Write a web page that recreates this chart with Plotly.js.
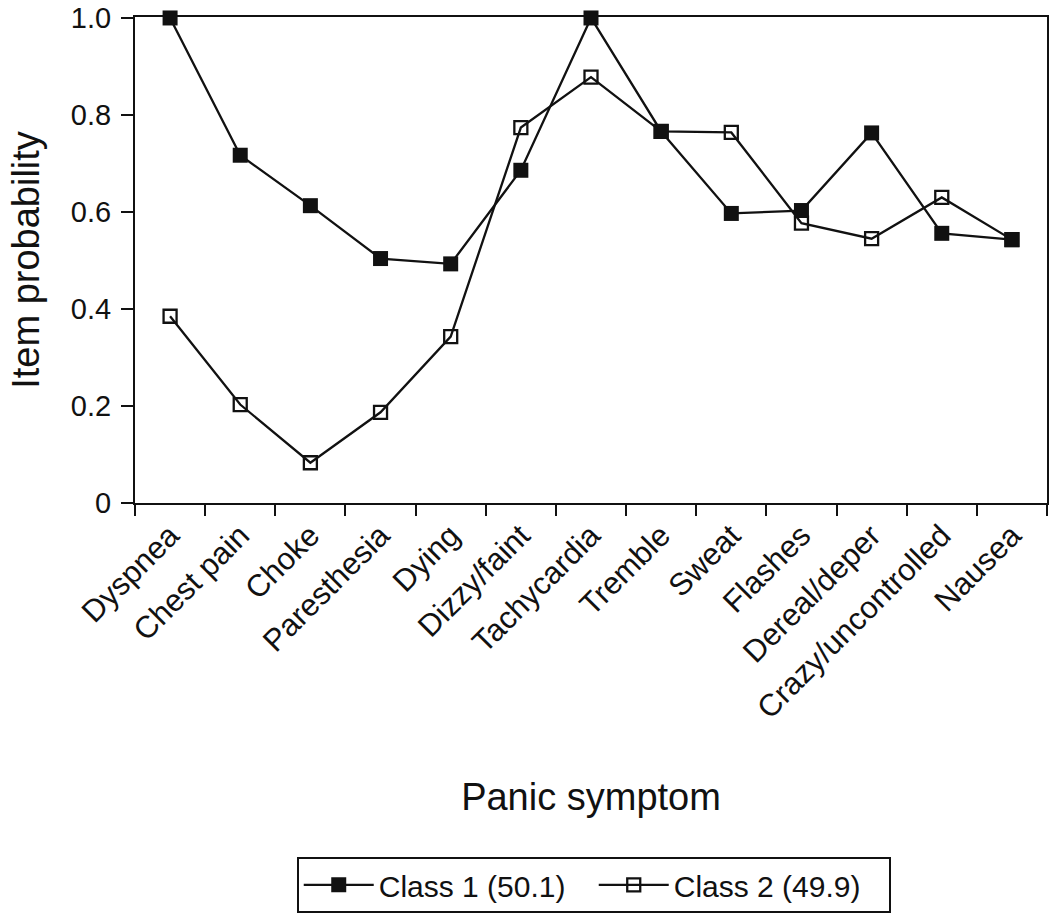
<!DOCTYPE html>
<html>
<head>
<meta charset="utf-8">
<script src="https://cdn.plot.ly/plotly-3.0.1.min.js"></script>
<style>html,body{margin:0;padding:0;background:#fff;}#chart{width:1050px;height:918px;}</style>
</head>
<body>
<div id="chart"></div>
<script>
const symptoms = ["Dyspnea","Chest pain","Choke","Paresthesia","Dying","Dizzy/faint","Tachycardia","Tremble","Sweat","Flashes","Dereal/deper","Crazy/uncontrolled","Nausea"];
const class1 = [1.0, 0.717, 0.613, 0.504, 0.493, 0.686, 1.0, 0.766, 0.597, 0.603, 0.763, 0.556, 0.543];
const class2 = [0.385, 0.203, 0.083, 0.187, 0.343, 0.774, 0.878, 0.766, 0.764, 0.577, 0.545, 0.630, 0.543];
const yTickVals = [0, 0.2, 0.4, 0.6, 0.8, 1.0];
const yTickText = ["0", "0.2", "0.4", "0.6", "0.8", "1.0"];
const seriesNames = ["Class 1 (50.1)", "Class 2 (49.9)"];

const FONT = "Liberation Sans, Arial, Helvetica, sans-serif";

const traces = [
  {
    x: symptoms, y: class2, name: seriesNames[1], type: "scatter", mode: "lines+markers",
    line: {color: "#111", width: 2.3},
    marker: {symbol: "square-open", size: 13, color: "#111", line: {width: 2.3, color: "#111"}},
    cliponaxis: false
  },
  {
    x: symptoms, y: class1, name: seriesNames[0], type: "scatter", mode: "lines+markers",
    line: {color: "#111", width: 2.3},
    marker: {symbol: "square", size: 15, color: "#111"},
    cliponaxis: false
  }
];

const layout = {
  width: 1050, height: 918,
  margin: {l: 135, r: 3, t: 17, b: 415},
  paper_bgcolor: "#fff", plot_bgcolor: "#fff",
  font: {family: FONT, color: "#111", size: 29},
  showlegend: true,
  legend: {
    orientation: "h", traceorder: "reversed",
    x: 0.503, xanchor: "center", y: -0.728, yanchor: "top",
    bordercolor: "#111", borderwidth: 2, bgcolor: "#fff",
    font: {family: FONT, size: 30, color: "#111"},
    itemwidth: 70, entrywidth: 210
  },
  xaxis: {
    type: "category", range: [-0.5, 12.5],
    showline: true, linecolor: "#111", linewidth: 2, mirror: true,
    ticks: "outside", ticklen: 11, tickwidth: 2, tickcolor: "#111",
    tickson: "boundaries", tickangle: -45,
    showgrid: false, zeroline: false, automargin: false,
    tickfont: {family: FONT, size: 31, color: "#111"},
    title: {text: "Panic symptom", font: {family: FONT, size: 38, color: "#111"}, standoff: 59}
  },
  yaxis: {
    range: [0, 1.002],
    showline: true, linecolor: "#111", linewidth: 2, mirror: true,
    ticks: "outside", ticklen: 12, tickwidth: 2, tickcolor: "#111",
    tickvals: yTickVals, ticktext: yTickText,
    showgrid: false, zeroline: false, automargin: false,
    ticklabeloverflow: "allow",
    tickfont: {family: FONT, size: 29, color: "#111"},
    ticklabelstandoff: 4,
    title: {text: "Item probability", font: {family: FONT, size: 38, color: "#111"}, standoff: 20}
  }
};

Plotly.newPlot("chart", traces, layout, {displayModeBar: false, staticPlot: true});
</script>
</body>
</html>
